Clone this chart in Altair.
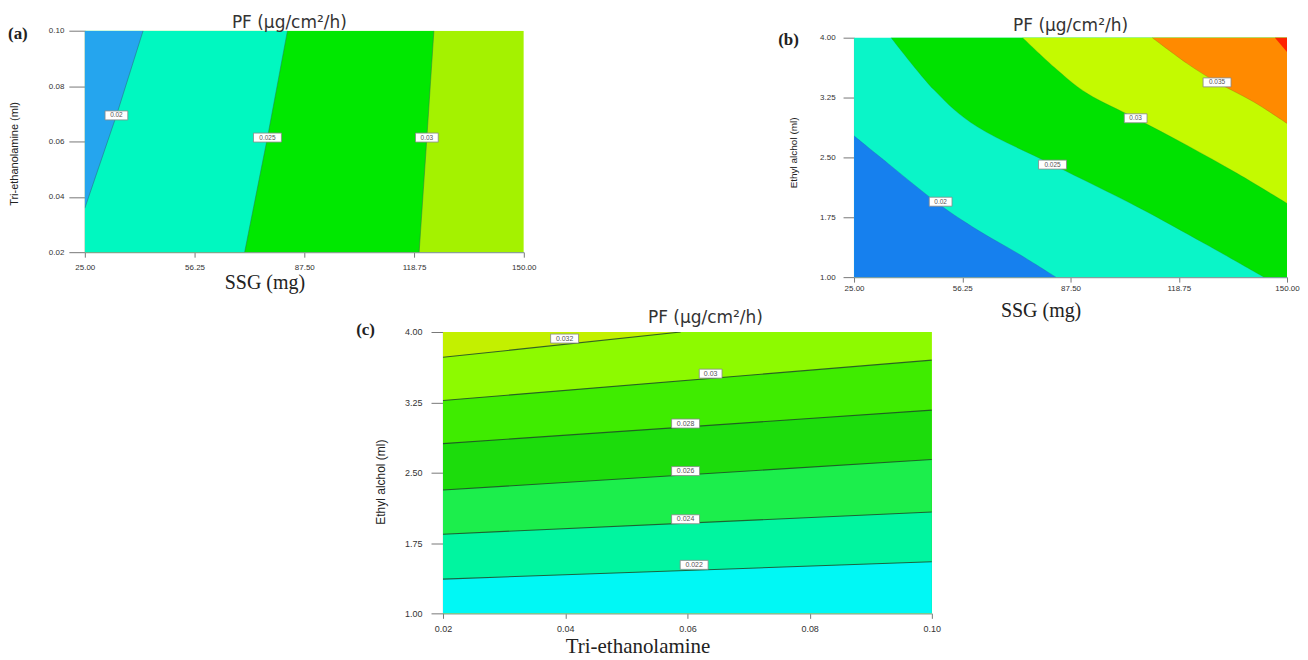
import altair as alt
import pandas as pd

# ---------------- Panel (a): SSG (mg) vs Tri-ethanolamine (ml) ----------------
a_x_domain = [25.0, 150.0]
a_y_domain = [0.02, 0.10]
a_x_ticks = [25.0, 56.25, 87.5, 118.75, 150.0]
a_y_ticks = [0.02, 0.04, 0.06, 0.08, 0.10]
a_c020_x = [25.0, 34.0, 41.6]
a_c020_y = [0.0359, 0.0694, 0.10]
a_c025_x = [70.5, 77.0, 82.7]
a_c025_y = [0.02, 0.0614, 0.10]
a_c030_x = [120.2, 122.4, 124.4]
a_c030_y = [0.02, 0.0614, 0.10]
a_lab_text = ["0.02", "0.025", "0.03"]
a_lab_x = [34.0, 77.0, 122.4]
a_lab_y = [0.0694, 0.0614, 0.0614]

# ---------------- Panel (b): SSG (mg) vs Ethyl alcohol (ml) ----------------
b_x_domain = [25.0, 150.0]
b_y_domain = [1.0, 4.0]
b_x_ticks = [25.0, 56.25, 87.5, 118.75, 150.0]
b_y_ticks = [1.0, 1.75, 2.5, 3.25, 4.0]
b_c020_x = [25.0, 34.8, 49.2, 60.7, 72.2, 83.3]
b_c020_y = [2.77, 2.425, 1.925, 1.59, 1.30, 1.0]
b_c025_x = [35.7, 48.2, 60.7, 82.3, 106.8, 126.0, 143.3]
b_c025_y = [4.0, 3.34, 2.88, 2.41, 1.88, 1.425, 1.0]
b_c030_x = [73.7, 82.8, 92.4, 106.3, 121.2, 135.6, 150.0]
b_c030_y = [4.0, 3.63, 3.30, 2.99, 2.65, 2.30, 1.925]
b_c035_x = [111.1, 121.2, 129.8, 140.4, 150.0]
b_c035_y = [4.0, 3.675, 3.44, 3.195, 2.925]
b_c040_x = [146.5, 150.0]
b_c040_y = [4.0, 3.82]
b_lab_text = ["0.02", "0.025", "0.03", "0.035"]
b_lab_x = [50.0, 82.3, 106.3, 129.8]
b_lab_y = [1.945, 2.41, 2.99, 3.44]

# ---------------- Panel (c): Tri-ethanolamine vs Ethyl alcohol (ml) ----------------
c_x_domain = [0.02, 0.10]
c_y_domain = [1.0, 4.0]
c_x_ticks = [0.02, 0.04, 0.06, 0.08, 0.10]
c_y_ticks = [1.0, 1.75, 2.5, 3.25, 4.0]
c_c032_x = [0.02, 0.0589]
c_c032_y = [3.73, 4.0]
c_c030_x = [0.02, 0.10]
c_c030_y = [3.27, 3.70]
c_c028_x = [0.02, 0.10]
c_c028_y = [2.81, 3.167]
c_c026_x = [0.02, 0.10]
c_c026_y = [2.315, 2.64]
c_c024_x = [0.02, 0.10]
c_c024_y = [1.844, 2.08]
c_c022_x = [0.02, 0.10]
c_c022_y = [1.365, 1.55]
c_lab_text = ["0.032", "0.03", "0.028", "0.026", "0.024", "0.022"]
c_lab_x = [0.0399, 0.0638, 0.0597, 0.0597, 0.0597, 0.0611]
c_lab_y = [3.93, 3.556, 3.024, 2.517, 2.003, 1.517]

TITLE = "PF (µg/cm²/h)"
one = pd.DataFrame({"k": [0]})
SANS = "Liberation Sans"
NARROW = "Liberation Sans Narrow, Liberation Sans, sans-serif"
SERIF = "Liberation Serif"


def make_xy(xdom, ydom, xticks, yticks, xtitle, ytitle, xt, yt, xfont, yfont,
            ytick, ypad, xpad, labsize, yrange=None):
    xaxis = alt.Axis(values=xticks, format=".2f", title=xtitle, grid=False,
                     labelFont=SANS, labelFontSize=labsize, labelColor="#333",
                     labelFlush=False, labelOverlap=False, labelPadding=xpad,
                     tickSize=5, tickColor="#777", domainColor="#8a9c9c", domainWidth=1.2,
                     titleFont=xfont[0], titleFontSize=xfont[1], titleFontWeight="normal",
                     titleColor="#222", titleX=xt[0], titleY=xt[1],
                     titleAlign="center", titleBaseline="middle")
    yaxis = alt.Axis(values=yticks, format=".2f", title=ytitle, grid=False,
                     labelFont=SANS, labelFontSize=labsize, labelColor="#333",
                     labelFlush=False, labelOverlap=False, labelPadding=ypad,
                     tickSize=ytick, tickColor="#777", domainColor="#8a9c9c", domainWidth=1.2,
                     titleFont=yfont[0], titleFontSize=yfont[1], titleFontWeight="normal",
                     titleColor="#222", titleX=yt[0], titleY=yt[1],
                     titleAlign="center", titleBaseline="middle")
    xs = alt.Scale(domain=xdom, nice=False, zero=False)
    if yrange is None:
        ys = alt.Scale(domain=ydom, nice=False, zero=False)
    else:
        ys = alt.Scale(domain=ydom, nice=False, zero=False, range=yrange)
    X = lambda f: alt.X(f"{f}:Q", scale=xs, axis=xaxis)
    Y = lambda f: alt.Y(f"{f}:Q", scale=ys, axis=yaxis)
    return X, Y


def band(xs, ys, base, color, X, Y, horizontal=False, interp="linear"):
    df = pd.DataFrame({"x": xs, "y": ys, "b": [base] * len(xs)})
    if horizontal:
        return alt.Chart(df).mark_area(orient="horizontal", color=color, opacity=1,
                                       interpolate=interp, clip=True).encode(
            x=X("x"), x2=alt.X2("b"), y=Y("y"))
    return alt.Chart(df).mark_area(color=color, opacity=1, interpolate=interp,
                                   clip=True).encode(
        x=X("x"), y=Y("y"), y2=alt.Y2("b"))


def cline(xs, ys, X, Y, color, width, opacity, interp="linear"):
    df = pd.DataFrame({"x": xs, "y": ys, "i": list(range(len(xs)))})
    return alt.Chart(df).mark_line(color=color, strokeWidth=width, opacity=opacity,
                                   interpolate=interp, clip=True).encode(
        x=X("x"), y=Y("y"), order="i:Q")


def clabels(texts, xs, ys, X, Y, fs=6.5):
    h = 9.0
    ws = [5.2 * len(t) + 2 for t in texts]
    shapes = [f"M-1,{-h / w:.4f}L1,{-h / w:.4f}L1,{h / w:.4f}L-1,{h / w:.4f}Z" for w in ws]
    df = pd.DataFrame({"t": texts, "x": xs, "y": ys, "shape": shapes, "sz": [w * w for w in ws]})
    box = alt.Chart(df).mark_point(filled=True, fill="white", stroke="#888", strokeWidth=0.8,
                                   opacity=1, fillOpacity=1).encode(
        x=X("x"), y=Y("y"), shape=alt.Shape("shape:N", scale=None),
        size=alt.Size("sz:Q", scale=None))
    txt = alt.Chart(df).mark_text(font=SANS, fontSize=fs, color="#555").encode(
        x=X("x"), y=Y("y"), text="t:N")
    return [box, txt]


def anchor(px, py):
    # invisible 1px white square used to pin the panel's layout bounds
    return alt.Chart(one).mark_point(shape="square", size=1, filled=True, color="white",
                                     opacity=1).encode(x=alt.value(px), y=alt.value(py))


def tag(label, px, py):
    return alt.Chart(pd.DataFrame({"t": [label]})).mark_text(
        font=SERIF, fontSize=17, fontWeight="bold", color="#222",
        align="left", baseline="middle").encode(x=alt.value(px), y=alt.value(py), text="t:N")


def ttl(dx, offset, dy=0):
    return alt.TitleParams(TITLE, font="DejaVu Sans", fontSize=17, fontWeight="normal",
                           color="#333", anchor="middle", frame="group",
                           dx=dx, dy=dy, offset=offset)


# ---------- Panel a ----------
AW, AH = 440, 222
Xa, Ya = make_xy(a_x_domain, a_y_domain, a_x_ticks, a_y_ticks, "SSG (mg)",
                 "Tri-ethanolamine (ml)", (180, 30), (-70, 123), (SERIF, 20), (NARROW, 11),
                 16, 5, 6, 8)
a_layers = [
    band([a_x_domain[1], a_x_domain[1]], a_y_domain, a_x_domain[0], "#a4f200", Xa, Ya, True),
    band(a_c030_x, a_c030_y, a_x_domain[0], "#00e800", Xa, Ya, True),
    band(a_c025_x, a_c025_y, a_x_domain[0], "#00f8c0", Xa, Ya, True),
    band(a_c020_x, a_c020_y, a_x_domain[0], "#25a5ee", Xa, Ya, True),
    cline(a_c030_x, a_c030_y, Xa, Ya, "#2f6f4f", 0.8, 0.6),
    cline(a_c025_x, a_c025_y, Xa, Ya, "#2f6f4f", 0.8, 0.6),
    cline(a_c020_x, a_c020_y, Xa, Ya, "#2f5f6f", 0.8, 0.6),
    *clabels(a_lab_text, a_lab_x, a_lab_y, Xa, Ya),
    tag("(a)", -77, 3),
    anchor(-76.5, -21.5),
    anchor(AW + 20, 0),
]
panel_a = alt.layer(*a_layers).properties(width=AW, height=AH, title=ttl(-15, 2, 25))

# ---------- Panel b (plot area drawn 7px below the group top) ----------
BW, BH, BOFF = 434, 240, 7
Xb, Yb = make_xy(b_x_domain, b_y_domain, b_x_ticks, b_y_ticks, "SSG (mg)",
                 "Ethyl alchol (ml)", (187, 33), (-61, 122), (SERIF, 20), (NARROW, 10),
                 11, 8, 2, 8, yrange=[BH + BOFF, BOFF])
right_b = b_x_domain[1]
SM = "cardinal"
b_layers = [
    # band between 0.02 and 0.025 as background
    band(b_x_domain, [b_y_domain[1]] * 2, b_y_domain[0], "#0af5c8", Xb, Yb),
    # regions to the upper right of each level (horizontal areas out to x = 150)
    band(b_c025_x, b_c025_y, right_b, "#00e200", Xb, Yb, True, SM),
    band(b_c030_x, b_c030_y, right_b, "#c4fa00", Xb, Yb, True, SM),
    band(b_c035_x, b_c035_y, right_b, "#ff8a00", Xb, Yb, True, SM),
    band(b_c040_x, b_c040_y, right_b, "#ff2200", Xb, Yb, True),
    # region below the 0.02 level
    band(b_c020_x, b_c020_y, b_y_domain[0], "#1680ee", Xb, Yb, False, SM),
    cline(b_c035_x, b_c035_y, Xb, Yb, "#6a6a20", 0.7, 0.35, SM),
    cline(b_c030_x, b_c030_y, Xb, Yb, "#3d7a3a", 0.7, 0.35, SM),
    cline(b_c025_x, b_c025_y, Xb, Yb, "#3d7a5a", 0.7, 0.35, SM),
    cline(b_c020_x, b_c020_y, Xb, Yb, "#2d5a8a", 0.7, 0.35, SM),
    *clabels(b_lab_text, b_lab_x, b_lab_y, Xb, Yb),
    tag("(b)", -76, 9),
    anchor(-99.5, 0),
    anchor(0, BH + BOFF + 50),
]
panel_b = alt.layer(*b_layers).properties(width=BW, height=BH + BOFF, title=ttl(0, 3, 8))

# ---------- Panel c ----------
CW, CH = 490, 282
Xc, Yc = make_xy(c_x_domain, c_y_domain, c_x_ticks, c_y_ticks, "Tri-ethanolamine",
                 "Ethyl alchol (ml)", (195, 33), (-63, 150), (SERIF, 21), (NARROW, 12),
                 12, 9, 6, 9)
top_c = c_y_domain[1]
c_layers = [
    band(c_x_domain, [top_c, top_c], c_y_domain[0], "#c3f000", Xc, Yc),
    band(c_c032_x + [c_x_domain[1]], c_c032_y + [top_c], c_y_domain[0], "#8dfa00", Xc, Yc),
    band(c_c030_x, c_c030_y, c_y_domain[0], "#3fec00", Xc, Yc),
    band(c_c028_x, c_c028_y, c_y_domain[0], "#1cdc0c", Xc, Yc),
    band(c_c026_x, c_c026_y, c_y_domain[0], "#1cee4c", Xc, Yc),
    band(c_c024_x, c_c024_y, c_y_domain[0], "#00f5a0", Xc, Yc),
    band(c_c022_x, c_c022_y, c_y_domain[0], "#00f8f5", Xc, Yc),
]
for xs, ys in [(c_c032_x, c_c032_y), (c_c030_x, c_c030_y), (c_c028_x, c_c028_y),
               (c_c026_x, c_c026_y), (c_c024_x, c_c024_y), (c_c022_x, c_c022_y)]:
    c_layers.append(cline(xs, ys, Xc, Yc, "#1f4a28", 1.1, 0.85))
c_layers += clabels(c_lab_text, c_lab_x, c_lab_y, Xc, Yc, 7)
c_layers += [tag("(c)", -87, -2), anchor(-90, -39.5)]
panel_c = alt.layer(*c_layers).properties(width=CW, height=CH, title=ttl(18, 5, 40))

# invisible spacer that pushes panel (c) to the right
SPW = 267
spacer = alt.Chart(one).mark_point(shape="square", size=1, filled=True, color="white",
                                   opacity=1).encode(
    x=alt.value(SPW), y=alt.value(0)).properties(width=SPW, height=1)

row1 = alt.concat(panel_a, panel_b, columns=2, align="none", spacing=210)
row2 = alt.concat(spacer, panel_c, columns=2, align="none", spacing=0)
chart = alt.concat(row1, row2, columns=1, align="none", spacing=-36,
                   padding=0).configure_view(strokeWidth=0)

chart.save("out.html", embed_options={"renderer": "svg", "actions": False})
